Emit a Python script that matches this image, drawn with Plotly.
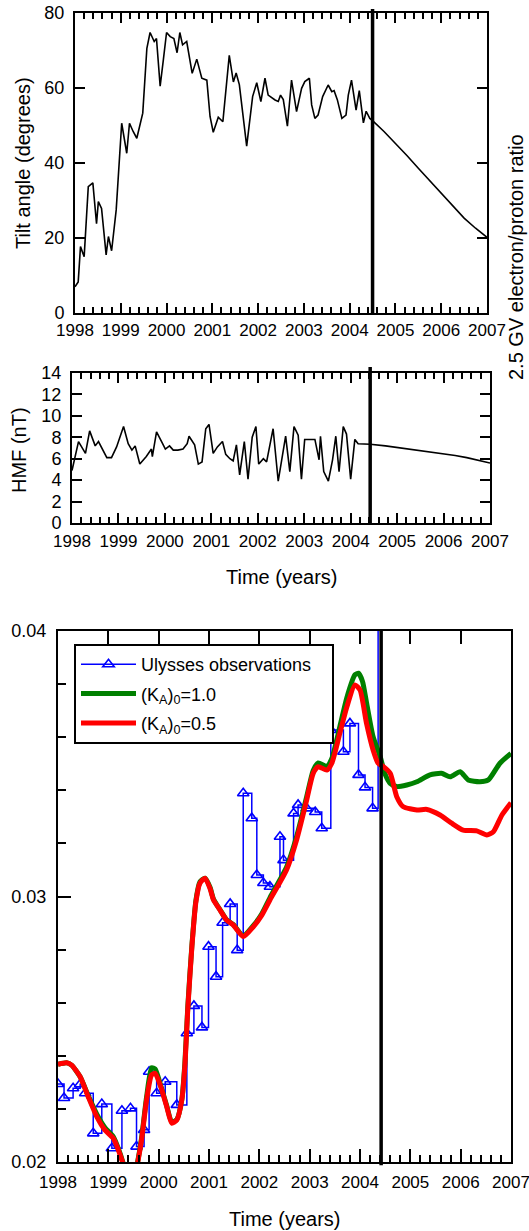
import plotly.graph_objects as go

W, H = 529, 1231
FONT = "Liberation Sans, Arial, sans-serif"

# ---------------- data ----------------
# Top panel: tilt angle (degrees)
tilt_years = [1998.00, 1998.07, 1998.12, 1998.20, 1998.29, 1998.39, 1998.47, 1998.51, 1998.58,
              1998.68, 1998.73, 1998.80, 1998.90, 1999.02, 1999.13, 1999.19, 1999.27, 1999.35,
              1999.48, 1999.57, 1999.64, 1999.73, 1999.78, 1999.86, 1999.93, 2000.00, 2000.08,
              2000.16, 2000.23, 2000.29, 2000.35, 2000.44, 2000.56, 2000.66, 2000.77, 2000.88,
              2000.95, 2001.02, 2001.13, 2001.23, 2001.37, 2001.46, 2001.52, 2001.59, 2001.75,
              2001.88, 2001.97, 2002.06, 2002.15, 2002.22, 2002.37, 2002.44, 2002.49, 2002.55,
              2002.64, 2002.73, 2002.84, 2002.95, 2003.02, 2003.12, 2003.17, 2003.24, 2003.31,
              2003.41, 2003.53, 2003.61, 2003.66, 2003.73, 2003.83, 2003.92, 2003.97, 2004.04,
              2004.14, 2004.21, 2004.30, 2004.36, 2004.44, 2004.50,
              2004.75, 2005.00, 2005.25, 2005.50, 2005.75, 2006.00, 2006.25, 2006.50, 2006.75, 2007.00]
tilt_deg = [7.0, 8.3, 17.7, 15.0, 33.7, 34.7, 23.8, 29.7, 27.9,
            15.5, 20.4, 16.6, 27.5, 50.6, 42.6, 50.6, 48.4, 46.6,
            53.3, 70.6, 74.8, 72.4, 73.2, 60.5, 67.5, 74.8, 73.7,
            73.2, 69.4, 74.8, 71.5, 72.4, 63.9, 67.7, 62.6, 62.1,
            52.4, 48.2, 52.2, 51.0, 68.7, 61.6, 64.0, 60.9, 44.5,
            57.7, 61.4, 56.4, 62.6, 58.1, 56.8, 56.4, 58.1, 56.9,
            49.8, 62.1, 53.7, 59.9, 61.7, 62.6, 55.5, 51.9, 52.8,
            57.7, 60.8, 59.0, 59.3, 56.9, 51.9, 52.8, 58.1, 62.1,
            54.1, 59.3, 50.7, 53.8, 51.9, 51.3,
            48.4, 45.3, 42.0, 38.6, 35.2, 31.8, 28.5, 25.3, 22.6, 20.2]

# Middle panel: HMF (nT)
hmf_years = [1998.00, 1998.14, 1998.29, 1998.38, 1998.50, 1998.57, 1998.75, 1998.85, 1998.96,
             1999.11, 1999.21, 1999.29, 1999.36, 1999.46, 1999.60, 1999.71, 1999.73, 1999.82,
             1999.94, 2000.01, 2000.10, 2000.18, 2000.28, 2000.39, 2000.48, 2000.52, 2000.64,
             2000.72, 2000.80, 2000.88, 2000.95, 2001.04, 2001.13, 2001.24, 2001.31, 2001.40,
             2001.47, 2001.54, 2001.61, 2001.71, 2001.79, 2001.88, 2001.96, 2002.02, 2002.12,
             2002.19, 2002.33, 2002.44, 2002.60, 2002.69, 2002.78, 2002.87, 2002.94, 2003.01,
             2003.23, 2003.32, 2003.35, 2003.42, 2003.52, 2003.61, 2003.68, 2003.75, 2003.84,
             2003.91, 2004.00, 2004.09, 2004.16, 2004.42,
             2004.75, 2005.00, 2005.25, 2005.50, 2005.75, 2006.00, 2006.25, 2006.50, 2006.75, 2007.00]
hmf_nT = [4.9, 7.6, 6.5, 8.6, 7.2, 7.6, 6.1, 6.1, 7.1,
          9.0, 7.4, 6.8, 7.2, 5.5, 6.2, 6.9, 6.2, 8.5,
          7.5, 6.9, 7.2, 6.8, 6.8, 6.9, 7.4, 8.1, 7.3,
          5.5, 5.7, 8.8, 9.2, 6.5, 7.1, 7.6, 6.4, 6.0,
          5.8, 7.3, 4.5, 7.6, 4.1, 8.0, 9.0, 5.5, 6.0,
          5.7, 8.8, 3.9, 8.1, 4.8, 9.0, 8.2, 4.1, 7.8,
          7.8, 5.9, 8.1, 4.8, 3.9, 5.9, 8.1, 4.8, 9.0,
          8.3, 4.1, 7.8, 7.4, 7.35,
          7.2, 7.05, 6.95, 6.75, 6.6, 6.45, 6.3, 6.1, 5.85, 5.6]

# Bottom panel: Ulysses observations (2.5 GV e/p ratio)
uly_years = [1998.00, 1998.12, 1998.30, 1998.44, 1998.54, 1998.70, 1998.87, 1999.07, 1999.27,
             1999.44, 1999.56, 1999.71, 1999.81, 1999.96, 2000.13, 2000.36, 2000.56, 2000.70,
             2000.86, 2000.99, 2001.14, 2001.27, 2001.42, 2001.56, 2001.68, 2001.85, 2001.95,
             2002.08, 2002.21, 2002.41, 2002.48, 2002.68, 2002.77, 2002.94, 2003.11, 2003.24,
             2003.42, 2003.67, 2003.80, 2003.97, 2004.10, 2004.25, 2004.36]
uly_ratio = [0.02294, 0.02241, 0.02278, 0.02293, 0.02259, 0.02108, 0.02218, 0.02052, 0.02193,
             0.02202, 0.02058, 0.02121, 0.02340, 0.02259, 0.02302, 0.02215, 0.02485, 0.02588,
             0.02507, 0.02811, 0.02698, 0.02901, 0.02972, 0.02798, 0.03389, 0.03295, 0.03081,
             0.03051, 0.03037, 0.03225, 0.03137, 0.03313, 0.03345, 0.03332, 0.03318, 0.03257,
             0.03627, 0.03545, 0.03652, 0.03458, 0.03411, 0.03332, 0.04500]

# Model (K_A)_0 = 1.0
green_years = [1998.00, 1998.17, 1998.27, 1998.44, 1998.60, 1998.77, 1998.93, 1999.10, 1999.20,
               1999.29, 1999.38, 1999.48, 1999.58, 1999.66, 1999.76, 1999.86, 1999.93, 2000.03,
               2000.16, 2000.26, 2000.36, 2000.46, 2000.52, 2000.58, 2000.66, 2000.74, 2000.82,
               2000.92, 2001.02, 2001.09, 2001.22, 2001.35, 2001.48, 2001.68, 2001.88, 2002.05,
               2002.21, 2002.54, 2002.74, 2002.94, 2003.07, 2003.17, 2003.34, 2003.44, 2003.60,
               2003.74, 2003.90, 2003.97, 2004.05, 2004.13, 2004.26, 2004.40, 2004.50, 2004.60,
               2004.73, 2004.93, 2005.13, 2005.39, 2005.62, 2005.79, 2005.99, 2006.15, 2006.38,
               2006.55, 2006.78, 2007.00]
green_ratio = [0.02368, 0.02374, 0.02365, 0.02321, 0.02250, 0.02180, 0.02130, 0.02095, 0.02050,
               0.01998, 0.01930, 0.01910, 0.01998, 0.02090, 0.02245, 0.02355, 0.02350, 0.02295,
               0.02212, 0.02150, 0.02160, 0.02235, 0.02370, 0.02590, 0.02815, 0.02985, 0.03055,
               0.03069, 0.03035, 0.02990, 0.02950, 0.02912, 0.02895, 0.02852, 0.02890, 0.02935,
               0.02995, 0.03110, 0.03225, 0.03375, 0.03475, 0.03503, 0.03490, 0.03520, 0.03640,
               0.03750, 0.03835, 0.03841, 0.03810, 0.03730, 0.03602, 0.03527, 0.03460, 0.03426,
               0.03414, 0.03420, 0.03432, 0.03458, 0.03464, 0.03451, 0.03470, 0.03439, 0.03432,
               0.03439, 0.03502, 0.03539]

# Model (K_A)_0 = 0.5
red_years = [1998.00, 1998.17, 1998.27, 1998.44, 1998.60, 1998.77, 1998.93, 1999.10, 1999.20,
             1999.29, 1999.38, 1999.48, 1999.58, 1999.66, 1999.76, 1999.86, 1999.93, 2000.03,
             2000.16, 2000.26, 2000.36, 2000.46, 2000.52, 2000.58, 2000.66, 2000.74, 2000.82,
             2000.92, 2001.02, 2001.09, 2001.22, 2001.35, 2001.48, 2001.68, 2001.88, 2002.05,
             2002.21, 2002.54, 2002.74, 2002.94, 2003.07, 2003.17, 2003.34, 2003.44, 2003.60,
             2003.74, 2003.90, 2004.00, 2004.13, 2004.26, 2004.36, 2004.46, 2004.60, 2004.73,
             2004.86, 2005.13, 2005.33, 2005.59, 2005.82, 2006.05, 2006.32, 2006.52, 2006.65,
             2006.82, 2007.00]
red_ratio = [0.02368, 0.02374, 0.02365, 0.02321, 0.02246, 0.02171, 0.02121, 0.02089, 0.02045,
             0.01995, 0.01930, 0.01910, 0.01995, 0.02083, 0.02234, 0.02328, 0.02334, 0.02290,
             0.02208, 0.02146, 0.02158, 0.02234, 0.02360, 0.02580, 0.02810, 0.02980, 0.03050,
             0.03069, 0.03030, 0.02987, 0.02949, 0.02911, 0.02893, 0.02849, 0.02886, 0.02930,
             0.02987, 0.03100, 0.03213, 0.03363, 0.03464, 0.03489, 0.03476, 0.03502, 0.03615,
             0.03715, 0.03797, 0.03778, 0.03652, 0.03552, 0.03502, 0.03490, 0.03464, 0.03376,
             0.03338, 0.03326, 0.03328, 0.03307, 0.03276, 0.03250, 0.03247, 0.03232, 0.03244,
             0.03307, 0.03353]

# epoch markers (vertical lines) in years
NOW_TOP = 2004.50
NOW_MID = 2004.42
NOW_BOT = 2004.42

YEAR_RANGE = [1998, 2007]
TILT_RANGE = [0, 80]
HMF_RANGE = [0, 14]
RATIO_RANGE = [0.02, 0.04]

NB = "\u00a0"  # non-breaking space used to pad the legend box width

# ---------------- figure ----------------
def px_dom_x(a, b):
    return [a / W, b / W]

def px_dom_y(top, bottom):
    return [1 - bottom / H, 1 - top / H]

fig = go.Figure()

fig.add_trace(go.Scatter(x=tilt_years, y=tilt_deg, mode="lines", xaxis="x", yaxis="y",
                         line=dict(color="black", width=1.6), showlegend=False))
fig.add_trace(go.Scatter(x=hmf_years, y=hmf_nT, mode="lines", xaxis="x2", yaxis="y2",
                         line=dict(color="black", width=1.6), showlegend=False))
fig.add_trace(go.Scatter(x=uly_years, y=uly_ratio, mode="lines+markers", xaxis="x3", yaxis="y3",
                         line=dict(color="#0000ff", width=1.5, shape="hv"),
                         marker=dict(symbol="triangle-up-open", size=10, color="#0000ff",
                                     line=dict(width=1.6, color="#0000ff")),
                         name="Ulysses observations" + NB * 3, legendgroup="a", cliponaxis=True))
fig.add_trace(go.Scatter(x=green_years, y=green_ratio, mode="lines", xaxis="x3", yaxis="y3",
                         line=dict(color="#008000", width=5, shape="spline", smoothing=0.6),
                         name="(K<sub>A</sub>)<sub>0</sub>=1.0", legendgroup="b"))
fig.add_trace(go.Scatter(x=red_years, y=red_ratio, mode="lines", xaxis="x3", yaxis="y3",
                         line=dict(color="#ff0000", width=5, shape="spline", smoothing=0.6),
                         name="(K<sub>A</sub>)<sub>0</sub>=0.5", legendgroup="c"))
# helper (invisible) trace so the top tick axis of the bottom panel exists
fig.add_trace(go.Scatter(x=[YEAR_RANGE[0]], y=[RATIO_RANGE[0]], mode="markers", xaxis="x4", yaxis="y3",
                         marker=dict(opacity=0), showlegend=False, hoverinfo="skip"))

tickfont = dict(family=FONT, size=17, color="black")
common = dict(showgrid=False, zeroline=False, showline=True, linecolor="black", linewidth=2,
              ticks="inside", tickcolor="black", tickwidth=2, automargin=False,
              ticklabeloverflow="allow")
minor_x = dict(dtick=0.2, ticks="inside", ticklen=6, tickcolor="black", tickwidth=1.5, showgrid=False)

fig.update_layout(
    template="none",
    width=W, height=H, autosize=False,
    margin=dict(l=0, r=0, t=0, b=0, pad=0),
    paper_bgcolor="white", plot_bgcolor="white",
    font=dict(family=FONT, color="black"),
    xaxis=dict(domain=px_dom_x(75, 487), anchor="y", range=YEAR_RANGE, tick0=1998, dtick=1,
               ticklen=10, mirror="ticks", minor=minor_x, tickfont=tickfont,
               ticklabelstandoff=1, **common),
    yaxis=dict(domain=px_dom_y(13, 313), anchor="x", range=TILT_RANGE, dtick=20, ticklen=10,
               mirror="ticks", tickfont=dict(family=FONT, size=18, color="black"),
               ticklabelstandoff=5, **common),
    xaxis2=dict(domain=px_dom_x(72, 490), anchor="y2", range=YEAR_RANGE, tick0=1998, dtick=1,
                ticklen=10, mirror="ticks", minor=minor_x, tickfont=tickfont,
                ticklabelstandoff=2, **common),
    yaxis2=dict(domain=px_dom_y(373, 523), anchor="x2", range=HMF_RANGE, dtick=2, ticklen=10,
                mirror="ticks", tickfont=dict(family=FONT, size=18, color="black"),
                ticklabelstandoff=5, **common),
    xaxis3=dict(domain=px_dom_x(58, 511), anchor="y3", range=YEAR_RANGE, tick0=1998, dtick=1,
                ticklen=13, mirror=True, tickfont=tickfont, ticklabelstandoff=4,
                minor=dict(dtick=0.2, ticks="inside", ticklen=7, tickcolor="black", tickwidth=1.5,
                           showgrid=False),
                **common),
    xaxis4=dict(overlaying="x3", matches="x3", anchor="y3", side="top", range=YEAR_RANGE,
                tick0=1998, dtick=1, ticks="inside", ticklen=13, tickcolor="black", tickwidth=2,
                showticklabels=False, showgrid=False, zeroline=False, showline=False,
                automargin=False),
    yaxis3=dict(domain=px_dom_y(631, 1162), anchor="x3", range=RATIO_RANGE, dtick=0.01,
                tickformat=".2f", ticklen=13, mirror=True, ticklabelstandoff=6,
                minor=dict(dtick=0.002, ticks="inside", ticklen=8, tickcolor="black", tickwidth=1.5,
                           showgrid=False),
                tickfont=dict(family=FONT, size=18, color="black"), **common),
    legend=dict(x=74 / W, y=1 - 644 / H, xanchor="left", yanchor="top",
                bgcolor="white", bordercolor="black", borderwidth=2,
                font=dict(family=FONT, size=18, color="black"),
                itemwidth=55, tracegroupgap=3),
    showlegend=True,
)

# vertical epoch lines
fig.add_shape(type="line", xref="x", yref="y domain", x0=NOW_TOP, x1=NOW_TOP, y0=0, y1=1.013,
              line=dict(color="black", width=3.5))
fig.add_shape(type="line", xref="x2", yref="y2 domain", x0=NOW_MID, x1=NOW_MID, y0=0, y1=1.04,
              line=dict(color="black", width=3.5))
fig.add_shape(type="line", xref="x3", yref="y3 domain", x0=NOW_BOT, x1=NOW_BOT, y0=-0.006, y1=1,
              line=dict(color="black", width=3.5))

title_font = dict(family=FONT, size=20, color="black")
def ann(text, x, y, angle=0):
    fig.add_annotation(text=text, x=x / W, y=1 - y / H, xref="paper", yref="paper",
                       showarrow=False, textangle=angle, font=title_font,
                       xanchor="center", yanchor="middle")

ann("Tilt angle (degrees)", 23, 163, -90)
ann("HMF (nT)", 19, 450, -90)
ann("Time (years)", 281, 577)
ann("Time (years)", 284, 1219)
ann("2.5 GV electron/proton ratio", 516, 257, -90)

# remove the browser's default page margin so the figure sits at the window origin
fig.write_html("out.html", config={"displayModeBar": False},
               post_script="document.body.style.margin='0px';document.body.style.overflow='hidden';")
